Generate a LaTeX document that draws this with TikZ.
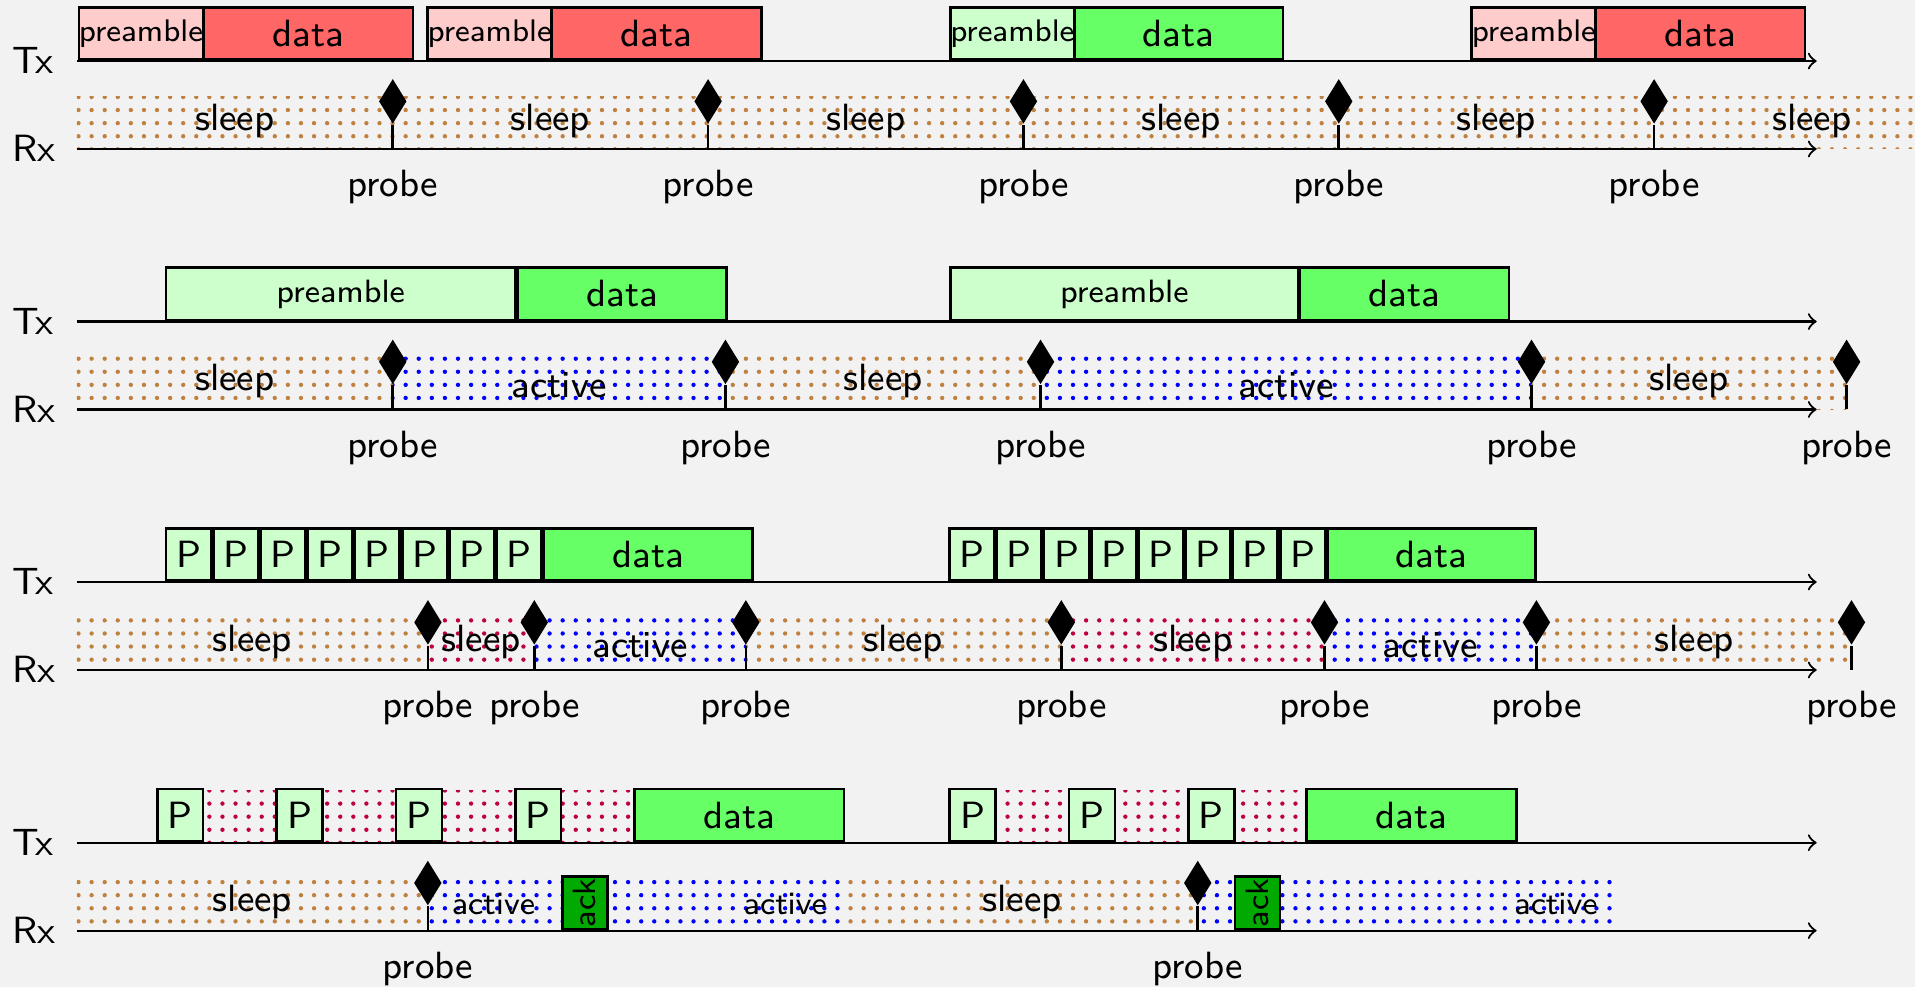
\documentclass[tikz,border=0pt]{standalone}
\usepackage{fontspec}
\usetikzlibrary{patterns,shapes.geometric}
\definecolor{bgc}{HTML}{F2F2F2}
\definecolor{ackc}{HTML}{00AA00}
\newcommand\fnorm{\sffamily\fontsize{8.7}{10}\selectfont}
\newcommand\fsmall{\sffamily\fontsize{7.4}{9}\selectfont}
\newcommand\fpre{\sffamily\fontsize{7.15}{9}\selectfont}
\newcommand\Bx[6]{\node[box,fill=#5,minimum width={(#3-(#2))*0.28pt}] (#1) at (#2,#4) {#6};}
\newcommand\Band[4]{\fill[pattern=dots,pattern color=#4] (#1,#3-43) rectangle (#2,#3);}
\newcommand\Probe[3]{\node[probemark] (#1) at (#2,#3-39) {};
  \coordinate (#1b) at (#2,#3);
  \draw[stem] (#1.south) -- (#1b);
  \node[lbl,anchor=base] (#1t) at (#2,#3+39) {probe};}
\newcommand\Sl[3]{\node[lbl,anchor=base] (#1) at (#2,#3-15.5) {sleep};}
\newcommand\Ac[3]{\node[lbl,anchor=base] (#1) at (#2,#3-10) {active};}
\newcommand\AcS[3]{\node[lbl,anchor=base,font=\fsmall] (#1) at (#2,#3-13) {active};}
\newcommand\Row[2]{%
  \coordinate (#1ts) at (63,#2); \coordinate (#1te) at (1487.5,#2);
  \coordinate (#1rs) at (63,#2+72); \coordinate (#1re) at (1487.5,#2+72);
  \draw[axis] (#1ts) -- (#1te);
  \draw[axis] (#1rs) -- (#1re);
  \node[lbl,anchor=base west] (#1tl) at (9.5,#2+10.5) {Tx};
  \node[lbl,anchor=base west] (#1rl) at (9.5,#2+82.5) {Rx};}
\begin{document}
\begin{tikzpicture}[
  x={(0.28pt,0)}, y={(0,-0.28pt)},
  box/.style={draw=black, line width=0.6pt, minimum height=43*0.28pt, inner sep=0pt, anchor=south west, font=\fnorm},
  axis/.style={line width=0.5pt, ->},
  stem/.style={line width=0.6pt},
  probemark/.style={diamond, fill=black, draw=none, inner sep=0pt, minimum width=23*0.28pt, minimum height=37*0.28pt},
  lbl/.style={inner sep=0pt, font=\fnorm}
]
\fill[bgc] (0,0) rectangle (1568,808);
\useasboundingbox (0,0) rectangle (1568,808);
\clip (0,0) rectangle (1568,808);

% ================= Row A =================
\Band{63}{1613}{122}{brown}
\Row{A}{50}
\Bx{a1p}{63.5}{164.5}{50}{red!20}{\fpre preamble}
\Bx{a1d}{165.5}{337}{50}{red!60}{data}
\Bx{a2p}{349}{449.5}{50}{red!20}{\fpre preamble}
\Bx{a2d}{450.5}{622.5}{50}{red!60}{data}
\Bx{a3p}{777}{877.5}{50}{green!20}{\fpre preamble}
\Bx{a3d}{878.5}{1049.5}{50}{green!60}{data}
\Bx{a4p}{1204}{1304.5}{50}{red!20}{\fpre preamble}
\Bx{a4d}{1305.5}{1477}{50}{red!60}{data}
\Sl{as1}{192.3}{122}
\Sl{as2}{450.7}{122}
\Sl{as3}{708.9}{122}
\Sl{as4}{967.1}{122}
\Sl{as5}{1225.3}{122}
\Sl{as6}{1483.5}{122}
\Probe{ap1}{321.6}{122}
\Probe{ap2}{579.8}{122}
\Probe{ap3}{838}{122}
\Probe{ap4}{1096.2}{122}
\Probe{ap5}{1354.4}{122}

% ================= Row B =================
\Band{63}{321.6}{335.3}{brown}
\Band{321.6}{594}{335.3}{blue}
\Band{594}{852}{335.3}{brown}
\Band{852}{1254}{335.3}{blue}
\Band{1254}{1512}{335.3}{brown}
\Row{B}{263.3}
\Bx{b1p}{135}{420.7}{263.3}{green!20}{\fsmall preamble}
\Bx{b1d}{422.5}{594}{263.3}{green!60}{data}
\Bx{b2p}{777}{1062}{263.3}{green!20}{\fsmall preamble}
\Bx{b2d}{1063.5}{1234.5}{263.3}{green!60}{data}
\Sl{bs1}{192.3}{335.3}
\Ac{ba1}{457.8}{335.3}
\Sl{bs2}{723}{335.3}
\Ac{ba2}{1053}{335.3}
\Sl{bs3}{1383}{335.3}
\Probe{bp1}{321.6}{335.3}
\Probe{bp2}{594}{335.3}
\Probe{bp3}{852}{335.3}
\Probe{bp4}{1254}{335.3}
\Probe{bp5}{1512}{335.3}

% ================= Row C =================
\Band{63}{350.4}{548.6}{brown}
\Band{350.4}{437.5}{548.6}{purple}
\Band{437.5}{610.7}{548.6}{blue}
\Band{610.7}{869}{548.6}{brown}
\Band{869}{1084.5}{548.6}{purple}
\Band{1084.5}{1258}{548.6}{blue}
\Band{1258}{1516}{548.6}{brown}
\Row{C}{476.6}
\foreach \i in {0,...,7}{
  \pgfmathsetmacro\xa{135+38.65*\i}
  \pgfmathsetmacro\xb{\xa+36.6}
  \Bx{c1P\i}{\xa}{\xb}{476.6}{green!20}{P}
  \pgfmathsetmacro\xa{776.6+38.65*\i}
  \pgfmathsetmacro\xb{\xa+36.6}
  \Bx{c2P\i}{\xa}{\xb}{476.6}{green!20}{P}
}
\Bx{c1d}{444.3}{615}{476.6}{green!60}{data}
\Bx{c2d}{1085.8}{1256.3}{476.6}{green!60}{data}
\Sl{cs1}{206.7}{548.6}
\Sl{cs2}{394}{548.6}
\Ac{ca1}{524}{548.6}
\Sl{cs3}{739.8}{548.6}
\Sl{cs4}{976.7}{548.6}
\Ac{ca2}{1171}{548.6}
\Sl{cs5}{1387}{548.6}
\Probe{cp1}{350.4}{548.6}
\Probe{cp2}{437.5}{548.6}
\Probe{cp3}{610.7}{548.6}
\Probe{cp4}{869}{548.6}
\Probe{cp5}{1084.5}{548.6}
\Probe{cp6}{1258}{548.6}
\Probe{cp7}{1516}{548.6}

% ================= Row D =================
\Band{63}{350.3}{762}{brown}
\Band{350.3}{693.5}{762}{blue}
\Band{693.5}{980.7}{762}{brown}
\Band{980.7}{1322}{762}{blue}
\foreach \i in {0,...,3}{
  \pgfmathsetmacro\xa{127.8+97.7*\i}
  \pgfmathsetmacro\xb{\xa+37.5}
  \pgfmathsetmacro\xc{\xa+97.7}
  \Band{\xb}{\xc}{690}{purple}
}
\foreach \i in {0,...,2}{
  \pgfmathsetmacro\xa{776.6+97.7*\i}
  \pgfmathsetmacro\xb{\xa+37.5}
  \pgfmathsetmacro\xc{\xa+97.7}
  \Band{\xb}{\xc}{690}{purple}
}
\Row{D}{690}
\foreach \i in {0,...,3}{
  \pgfmathsetmacro\xa{127.8+97.7*\i}
  \pgfmathsetmacro\xb{\xa+37.5}
  \Bx{d1P\i}{\xa}{\xb}{690}{green!20}{P}
}
\foreach \i in {0,...,2}{
  \pgfmathsetmacro\xa{776.6+97.7*\i}
  \pgfmathsetmacro\xb{\xa+37.5}
  \Bx{d2P\i}{\xa}{\xb}{690}{green!20}{P}
}
\Bx{d1d}{518.6}{690}{690}{green!60}{data}
\Bx{d2d}{1068.5}{1240.5}{690}{green!60}{data}
\Bx{d1k}{459.3}{496.2}{762}{ackc}{\rotatebox{90}{\fsmall ack}}
\Bx{d2k}{1010}{1047}{762}{ackc}{\rotatebox{90}{\fsmall ack}}
\Sl{ds1}{206.7}{762}
\AcS{da1}{404}{762}
\AcS{da2}{643}{762}
\Sl{ds2}{837}{762}
\AcS{da3}{1274}{762}
\Probe{dp1}{350.3}{762}
\Probe{dp2}{980.7}{762}
\end{tikzpicture}
\end{document}
